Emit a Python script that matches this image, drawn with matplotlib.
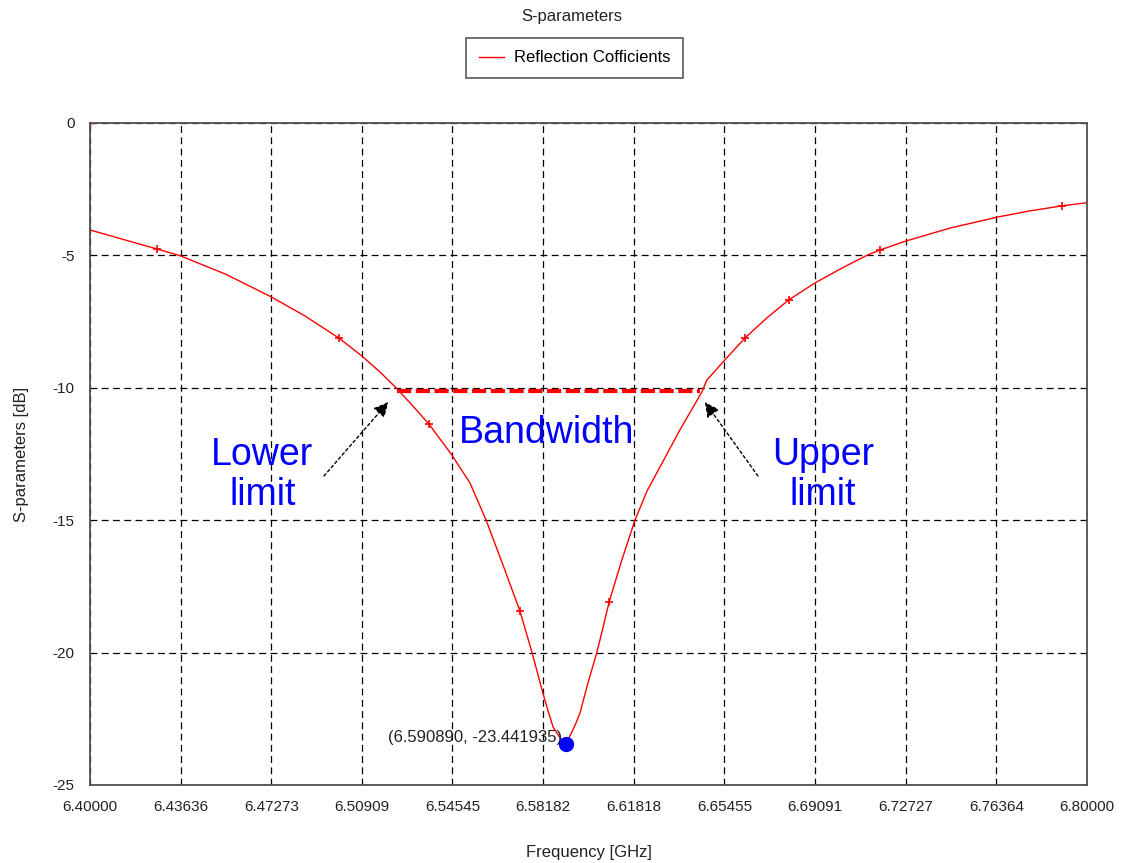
import matplotlib
matplotlib.use("Agg")
import matplotlib.pyplot as plt
from matplotlib.lines import Line2D

# reflection coefficient sweep (GHz, dB)
freq = [6.4000, 6.4269, 6.4361, 6.4542, 6.4726, 6.4863, 6.5000, 6.5091,
        6.5163, 6.5224, 6.5292, 6.5361, 6.5452, 6.5525, 6.5589, 6.5657,
        6.5725, 6.5745, 6.5773, 6.5817, 6.5838, 6.5858, 6.5886, 6.590890,
        6.5932, 6.5950, 6.5966, 6.5998, 6.6034, 6.6058, 6.6083, 6.6134,
        6.6187, 6.6235, 6.6287, 6.6367, 6.6455, 6.6475, 6.6515, 6.6547,
        6.6628, 6.6716, 6.6804, 6.6909, 6.7017, 6.7121, 6.7169, 6.7273,
        6.7450, 6.7643, 6.7771, 6.7900, 6.8000]
s11 = [-4.04, -4.76, -5.01, -5.70, -6.56, -7.29, -8.13, -8.80,
       -9.40, -9.96, -10.65, -11.38, -12.54, -13.60, -14.99, -16.69,
       -18.43, -19.07, -19.98, -21.52, -22.20, -22.81, -23.22, -23.441935,
       -23.03, -22.66, -22.28, -21.15, -19.98, -19.07, -18.09, -16.50,
       -14.99, -13.90, -12.99, -11.59, -10.16, -9.71, -9.29, -8.95,
       -8.12, -7.36, -6.68, -6.04, -5.48, -4.98, -4.80, -4.46,
       -3.97, -3.55, -3.32, -3.13, -3.01]
marker_idx = [1, 6, 11, 16, 30, 40, 42, 46, 51]
min_idx = 23

# -10 dB bandwidth edges
bw_freq = [6.5230, 6.6447]
bw_level = -10.11

x_ticks = [6.40000, 6.43636, 6.47273, 6.50909, 6.54545, 6.58182,
           6.61818, 6.65455, 6.69091, 6.72727, 6.76364, 6.80000]
y_ticks = [0, -5, -10, -15, -20, -25]

small_font = "Liberation Sans"
plt.rcParams['axes.unicode_minus'] = False

fig = plt.figure(figsize=(11.23, 8.63), dpi=100)
ax = fig.add_axes([0.0801, 0.0904, 0.8878, 0.7671])

ax.plot(freq, s11, color='red', lw=1.0, marker='+', markevery=marker_idx,
        markersize=6, markeredgewidth=1.2)
ax.plot([6.4], [0], color='red', marker='+', markersize=6, markeredgewidth=1.0)

ax.plot(bw_freq, [bw_level, bw_level], color='red', lw=3.0, dashes=(3.4, 1.1))

fmin, dbmin = freq[min_idx], s11[min_idx]
ax.plot(fmin, dbmin, 'o', color='blue', markersize=10, zorder=5)
ax.annotate("(%.6f, %.6f)" % (fmin, dbmin), xy=(fmin, dbmin), xytext=(-4, 6),
            textcoords='offset pixels', ha='right', va='center',
            fontsize=12, family=small_font, color='#222222')

ax.set_xlim(6.4, 6.8)
ax.set_ylim(-25, 0)
ax.set_xticks(x_ticks)
ax.set_xticklabels(["%.5f" % t for t in x_ticks])
ax.set_yticks(y_ticks)
ax.set_yticklabels([str(t) for t in y_ticks])
ax.tick_params(length=0, pad=11, labelsize=11, colors='#222222')
for lab in ax.get_xticklabels() + ax.get_yticklabels():
    lab.set_family(small_font)
ax.grid(True, color='black', lw=0.9, dashes=(5.5, 3.5))
for sp in ax.spines.values():
    sp.set_color('#505050')
    sp.set_linewidth(1.3)

ax.set_xlabel("Frequency [GHz]", fontsize=12, family=small_font,
              color='#222222', labelpad=22)
ax.set_ylabel("S-parameters [dB]", fontsize=12, family=small_font,
              color='#222222', labelpad=17)

# band annotations
txt = dict(color='blue', fontsize=27, family='Liberation Sans', ha='center',
           va='center', linespacing=1.12)
ax.text(6.5832, -11.71, "Bandwidth", **txt)
ax.text(6.4692, -13.30, "Lower\nlimit", **txt)
ax.text(6.6941, -13.30, "Upper\nlimit", **txt)
arrow = dict(arrowstyle='-|>', color='black', lw=1.0, linestyle=(0, (2, 2)),
             mutation_scale=22, shrinkA=0, shrinkB=0)
ax.annotate("", xy=(6.5197, -10.54), xytext=(6.4939, -13.33), arrowprops=arrow)
ax.annotate("", xy=(6.6467, -10.54), xytext=(6.6680, -13.33), arrowprops=arrow)

fig.text(572 / 1123, 1 - 17 / 863, "S-parameters", ha='center', va='center',
         fontsize=12, family=small_font, color='#222222')
handle = Line2D([], [], color='red', lw=1.0)
leg = ax.legend([handle], ['Reflection Cofficients'], loc='lower center',
                bbox_to_anchor=(0.486, 1.068), frameon=True, fancybox=False,
                handlelength=1.5, handletextpad=0.6, borderpad=0.75,
                borderaxespad=0, prop={'family': small_font, 'size': 12})
leg.get_frame().set_edgecolor('#404040')
leg.get_frame().set_linewidth(1.3)

fig.savefig("out.png", dpi=100)
